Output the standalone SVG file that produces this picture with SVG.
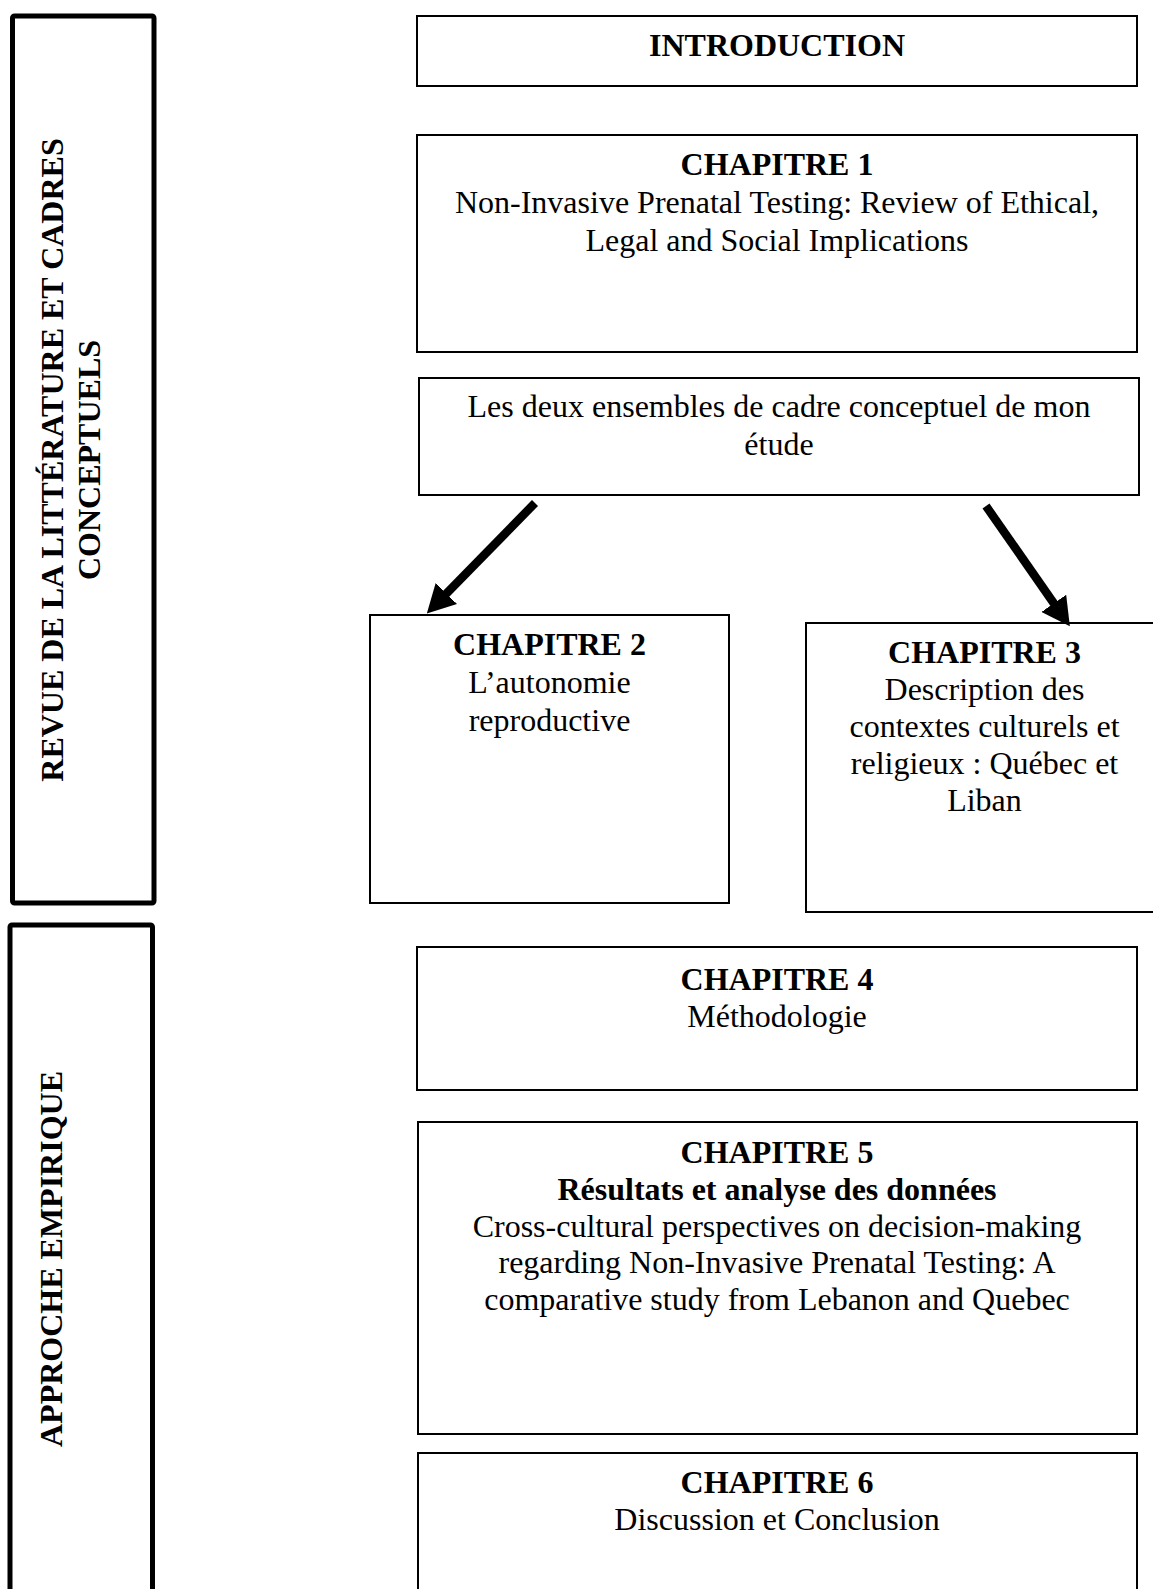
<svg xmlns="http://www.w3.org/2000/svg" width="1153" height="1589" viewBox="0 0 1153 1589">
<style>
.box{fill:#fff;stroke:#000;stroke-width:2}
.bar{fill:#fff;stroke:#000;stroke-width:5}
.t{font-family:"Liberation Serif","Times New Roman",serif;font-size:32px;fill:#000;text-anchor:middle}
.b{font-weight:bold}
.arr{stroke:#000;stroke-width:8.5;fill:none}
</style>
<defs>
<marker id="ah" viewBox="0 0 28 30" refX="2" refY="15" markerWidth="28" markerHeight="30" orient="auto" markerUnits="userSpaceOnUse">
<path d="M0,0 L28,15 L0,30 z" fill="#000"/>
</marker>
</defs>
<rect width="1153" height="1589" fill="#fff"/>
<g id="section-revue">
<rect class="bar" x="12.5" y="16" width="141.5" height="887" rx="2"/>
<text class="t b" transform="translate(63,460) rotate(-90)">REVUE DE LA LITTÉRATURE ET CADRES</text>
<text class="t b" transform="translate(100,460) rotate(-90)">CONCEPTUELS</text>
</g>
<g id="section-empirique">
<rect class="bar" x="10" y="925" width="142.5" height="700" rx="2"/>
<text class="t b" transform="translate(62,1259) rotate(-90)">APPROCHE EMPIRIQUE</text>
</g>
<g id="introduction">
<rect class="box" x="417" y="16" width="720" height="70"/>
<text class="t b" x="777" y="56">INTRODUCTION</text>
</g>
<g id="chapitre1">
<rect class="box" x="417" y="135" width="720" height="217"/>
<text class="t b" x="777" y="175">CHAPITRE 1</text>
<text class="t" x="777" y="213">Non-Invasive Prenatal Testing: Review of Ethical,</text>
<text class="t" x="777" y="251">Legal and Social Implications</text>
</g>
<g id="cadre">
<rect class="box" x="419" y="378" width="720" height="117"/>
<text class="t" x="779" y="417">Les deux ensembles de cadre conceptuel de mon</text>
<text class="t" x="779" y="455">étude</text>
</g>
<g id="chapitre2">
<rect class="box" x="370" y="615" width="359" height="288"/>
<text class="t b" x="549.5" y="655">CHAPITRE 2</text>
<text class="t" x="549.5" y="693">L’autonomie</text>
<text class="t" x="549.5" y="731">reproductive</text>
</g>
<g id="chapitre3">
<rect class="box" x="806" y="623" width="360" height="289"/>
<text class="t b" x="984.5" y="663">CHAPITRE 3</text>
<text class="t" x="984.5" y="700">Description des</text>
<text class="t" x="984.5" y="737">contextes culturels et</text>
<text class="t" x="984.5" y="774">religieux : Québec et</text>
<text class="t" x="984.5" y="811">Liban</text>
</g>
<g id="chapitre4">
<rect class="box" x="417" y="947" width="720" height="143"/>
<text class="t b" x="777" y="990">CHAPITRE 4</text>
<text class="t" x="777" y="1027">Méthodologie</text>
</g>
<g id="chapitre5">
<rect class="box" x="418" y="1122" width="719" height="312"/>
<text class="t b" x="777" y="1163">CHAPITRE 5</text>
<text class="t b" x="777" y="1200">Résultats et analyse des données</text>
<text class="t" x="777" y="1237">Cross-cultural perspectives on decision-making</text>
<text class="t" x="777" y="1273">regarding Non-Invasive Prenatal Testing: A</text>
<text class="t" x="777" y="1310">comparative study from Lebanon and Quebec</text>
</g>
<g id="chapitre6">
<rect class="box" x="418" y="1453" width="719" height="200"/>
<text class="t b" x="777" y="1493">CHAPITRE 6</text>
<text class="t" x="777" y="1530">Discussion et Conclusion</text>
</g>
<g id="connectors">
<line class="arr" x1="535" y1="503" x2="445" y2="595" marker-end="url(#ah)"/>
<line class="arr" x1="986" y1="506" x2="1055" y2="605" marker-end="url(#ah)"/>
</g>
</svg>
